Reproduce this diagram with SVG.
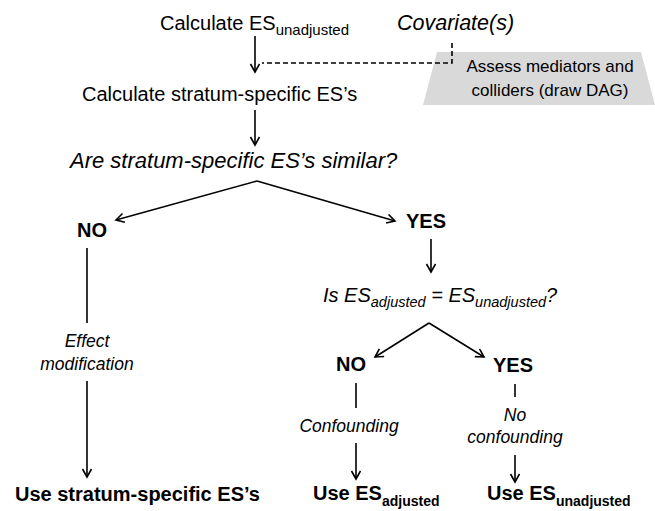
<svg xmlns="http://www.w3.org/2000/svg" width="655" height="511" viewBox="0 0 655 511">
<style>
text{font-family:"Liberation Sans",Arial,sans-serif;fill:#000}
.m{font-size:20px}
.i{font-size:21.5px;font-style:italic}
.q{font-size:22px;font-style:italic}
.e{font-size:20px;font-style:italic}
.s{font-size:17.5px;font-style:italic}
.b{font-size:20px;font-weight:bold}
.g{font-size:17px}
.ln{stroke:#000;stroke-width:1.6;fill:none}
.ar{stroke:#000;stroke-width:1.6;fill:none;marker-end:url(#ah)}
</style>
<defs>
<marker id="ah" markerUnits="userSpaceOnUse" markerWidth="14" markerHeight="14" refX="9" refY="5" orient="auto">
<path d="M1,0.5 L9,5 L1,9.5" fill="none" stroke="#000" stroke-width="1.6"/>
</marker>
</defs>
<rect width="655" height="511" fill="#fff"/>
<g id="dag">
<polygon points="437,52 641,52 655,105 423,105" fill="#d9d9d9"/>
<text class="g" x="550" y="72" text-anchor="middle">Assess mediators and</text>
<text class="g" x="550" y="96" text-anchor="middle">colliders (draw DAG)</text>
</g>
<g id="connectors">
<path class="ar" d="M255,36 V72"/>
<path class="ln" d="M452,43 V63 H262" stroke-dasharray="5,3"/>
<path class="ar" d="M255,110 V145"/>
<path class="ar" d="M257,181 L116,220"/>
<path class="ar" d="M257,181 L395,221"/>
<path class="ln" d="M87,248 V323"/>
<path class="ar" d="M87,381 V477"/>
<path class="ar" d="M431,239 V272"/>
<path class="ar" d="M429,323 L375,357"/>
<path class="ar" d="M429,323 L484,357"/>
<path class="ln" d="M356,383 V408"/>
<path class="ar" d="M356,443 V479"/>
<path class="ln" d="M515,384 V397"/>
<path class="ar" d="M515,455 V482"/>
</g>
<g id="calc-unadj"><text class="m" x="160" y="30">Calculate ES<tspan font-size="15" dy="5">unadjusted</tspan></text></g>
<g id="covariates"><text class="i" x="397" y="30">Covariate(s)</text></g>
<g id="calc-strata"><text class="m" x="82" y="101">Calculate stratum-specific ES’s</text></g>
<g id="similar"><text class="q" x="70" y="168">Are stratum-specific ES’s similar?</text></g>
<g id="no1"><text class="b" x="92" y="237" text-anchor="middle">NO</text></g>
<g id="yes1"><text class="b" x="426" y="228" text-anchor="middle">YES</text></g>
<g id="effmod">
<text class="s" x="87" y="347" text-anchor="middle">Effect</text>
<text class="s" x="87" y="370" text-anchor="middle">modification</text>
</g>
<g id="equal"><text class="e" x="323" y="302">Is ES<tspan font-size="14.5" dy="5">adjusted</tspan><tspan dy="-5"> = ES</tspan><tspan font-size="14.5" dy="5">unadjusted</tspan><tspan dy="-5">?</tspan></text></g>
<g id="no2"><text class="b" x="351" y="371" text-anchor="middle">NO</text></g>
<g id="yes2"><text class="b" x="513" y="372" text-anchor="middle">YES</text></g>
<g id="conf"><text class="s" x="349" y="432" text-anchor="middle">Confounding</text></g>
<g id="noconf">
<text class="s" x="515" y="421" text-anchor="middle">No</text>
<text class="s" x="515" y="443" text-anchor="middle">confounding</text>
</g>
<g id="use-strata"><text class="b" x="15" y="501">Use stratum-specific ES’s</text></g>
<g id="use-adj"><text class="b" x="313" y="500">Use ES<tspan font-size="14" dy="6">adjusted</tspan></text></g>
<g id="use-unadj"><text class="b" x="487" y="500">Use ES<tspan font-size="14" dy="6">unadjusted</tspan></text></g>
</svg>
